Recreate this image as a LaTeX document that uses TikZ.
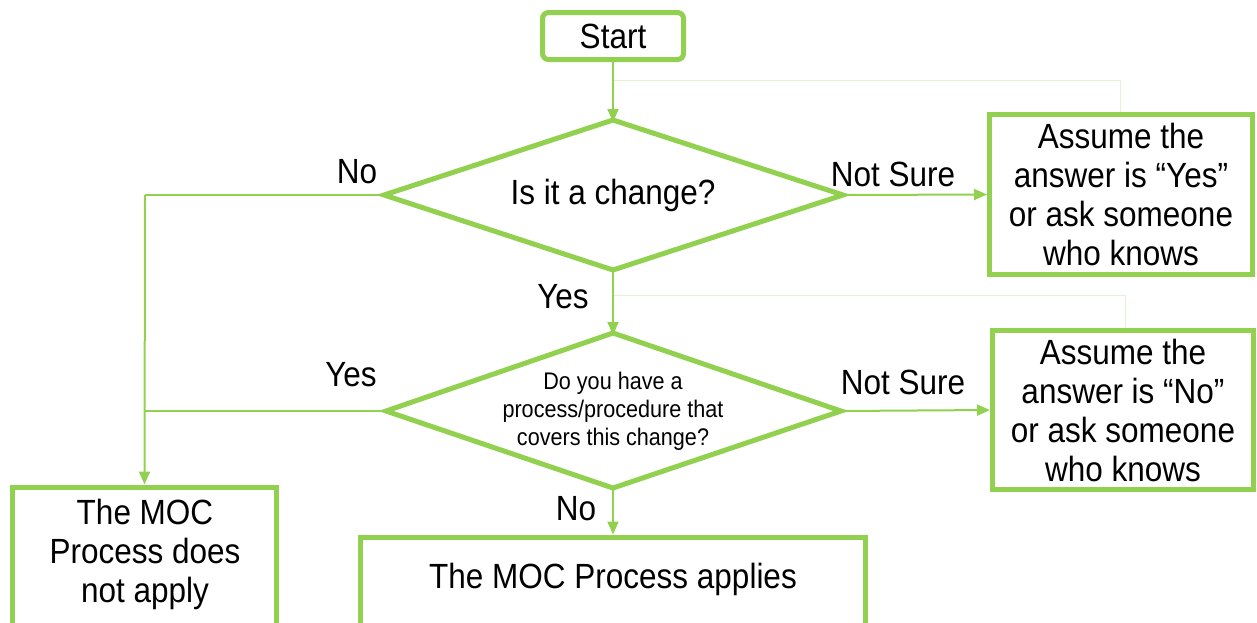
\documentclass[tikz,border=0pt]{standalone}
\usepackage{fontspec}
\setmainfont[FakeStretch=0.9]{Liberation Sans}
\usetikzlibrary{arrows.meta}
\definecolor{lg}{HTML}{92D050}
\definecolor{faint}{HTML}{E2F2D2}
\begin{document}
\begin{tikzpicture}[x=1pt,y=-1pt,
  box/.style={draw=lg,line width=5pt,inner sep=0pt,align=center,font=\fontsize{35}{39}\selectfont},
  diaborder/.style={draw=lg,line width=5pt,line join=miter},
  conn/.style={draw=lg,line width=2pt,-{Triangle[length=13pt,width=11pt]}},
  line/.style={draw=lg,line width=2pt},
  faintline/.style={draw=faint,line width=1pt},
  lbl/.style={font=\fontsize{35}{39}\selectfont,inner sep=0pt}]
\useasboundingbox (0,0) rectangle (1257,622);
\clip (0,0) rectangle (1257,622);
\node[box,rounded corners=6pt,minimum width=141pt,minimum height=47pt,font=\fontsize{35}{40}\selectfont] (start) at (613,36) {Start};
% diamond 1
\coordinate (d1n) at (613,120);
\coordinate (d1e) at (843,195);
\coordinate (d1s) at (613,270);
\coordinate (d1w) at (384,195);
\draw[diaborder] (d1n) -- (d1e) -- (d1s) -- (d1w) -- cycle;
\node[font=\fontsize{35}{39}\selectfont,inner sep=0pt] (d1) at (613,195) {Is it a change?};
\node[box,minimum width=263pt,minimum height=160pt] (a1) at (1121,194.5) {Assume the\\answer is “Yes”\\or ask someone\\who knows};
% diamond 2
\coordinate (d2n) at (613,333);
\coordinate (d2e) at (841,411);
\coordinate (d2s) at (613,488);
\coordinate (d2w) at (386,411);
\draw[diaborder] (d2n) -- (d2e) -- (d2s) -- (d2w) -- cycle;
\node[font=\fontsize{24}{28}\selectfont,align=center,inner sep=0pt] (d2) at (613,411) {Do you have a\\process/procedure that\\covers this change?};
\node[box,minimum width=261pt,minimum height=159pt] (a2) at (1123,410) {Assume the\\answer is “No”\\or ask someone\\who knows};
\node[box,minimum width=264pt,minimum height=140pt] (na) at (144.5,557) {};
\node[font=\fontsize{35}{39}\selectfont,align=center,inner sep=0pt] (nat) at (145,554) {The MOC\\Process does\\not apply};
\node[box,minimum width=505pt,minimum height=90pt] (ap) at (613,582) {};
\node[font=\fontsize{35}{39}\selectfont,inner sep=0pt] (apt) at (613,579) {The MOC Process applies};
% connectors
\draw[conn] (start.south) -- ([yshift=-2pt]d1n);
\draw[conn] (d1e) -- (a1.west);
\draw[conn] (d1s) -- ([yshift=-2pt]d2n);
\draw[conn] (d2e) -- (a2.west);
\draw[conn] (d2s) -- (ap.north);
\coordinate (corner) at (145,195);
\coordinate (join) at (145,411);
\draw[line] (d1w) -- (corner);
\draw[conn] (corner) -- (na.north);
\draw[line] (d2w) -- (join);
% faint return lines
\coordinate (f1) at (614,80);
\coordinate (f1r) at (1120,80);
\coordinate (f2) at (614,295);
\coordinate (f2r) at (1125,295);
\draw[faintline] (a1.north -| f1r) -- (f1r) -- (f1);
\draw[faintline] (a2.north -| f2r) -- (f2r) -- (f2);
% labels
\node[lbl] (l1) at (357,172) {No};
\node[lbl] (l2) at (893,174) {Not Sure};
\node[lbl] (l3) at (563,297) {Yes};
\node[lbl] (l4) at (351,375) {Yes};
\node[lbl] (l5) at (903,382) {Not Sure};
\node[lbl] (l6) at (576,509) {No};
\end{tikzpicture}
\end{document}
